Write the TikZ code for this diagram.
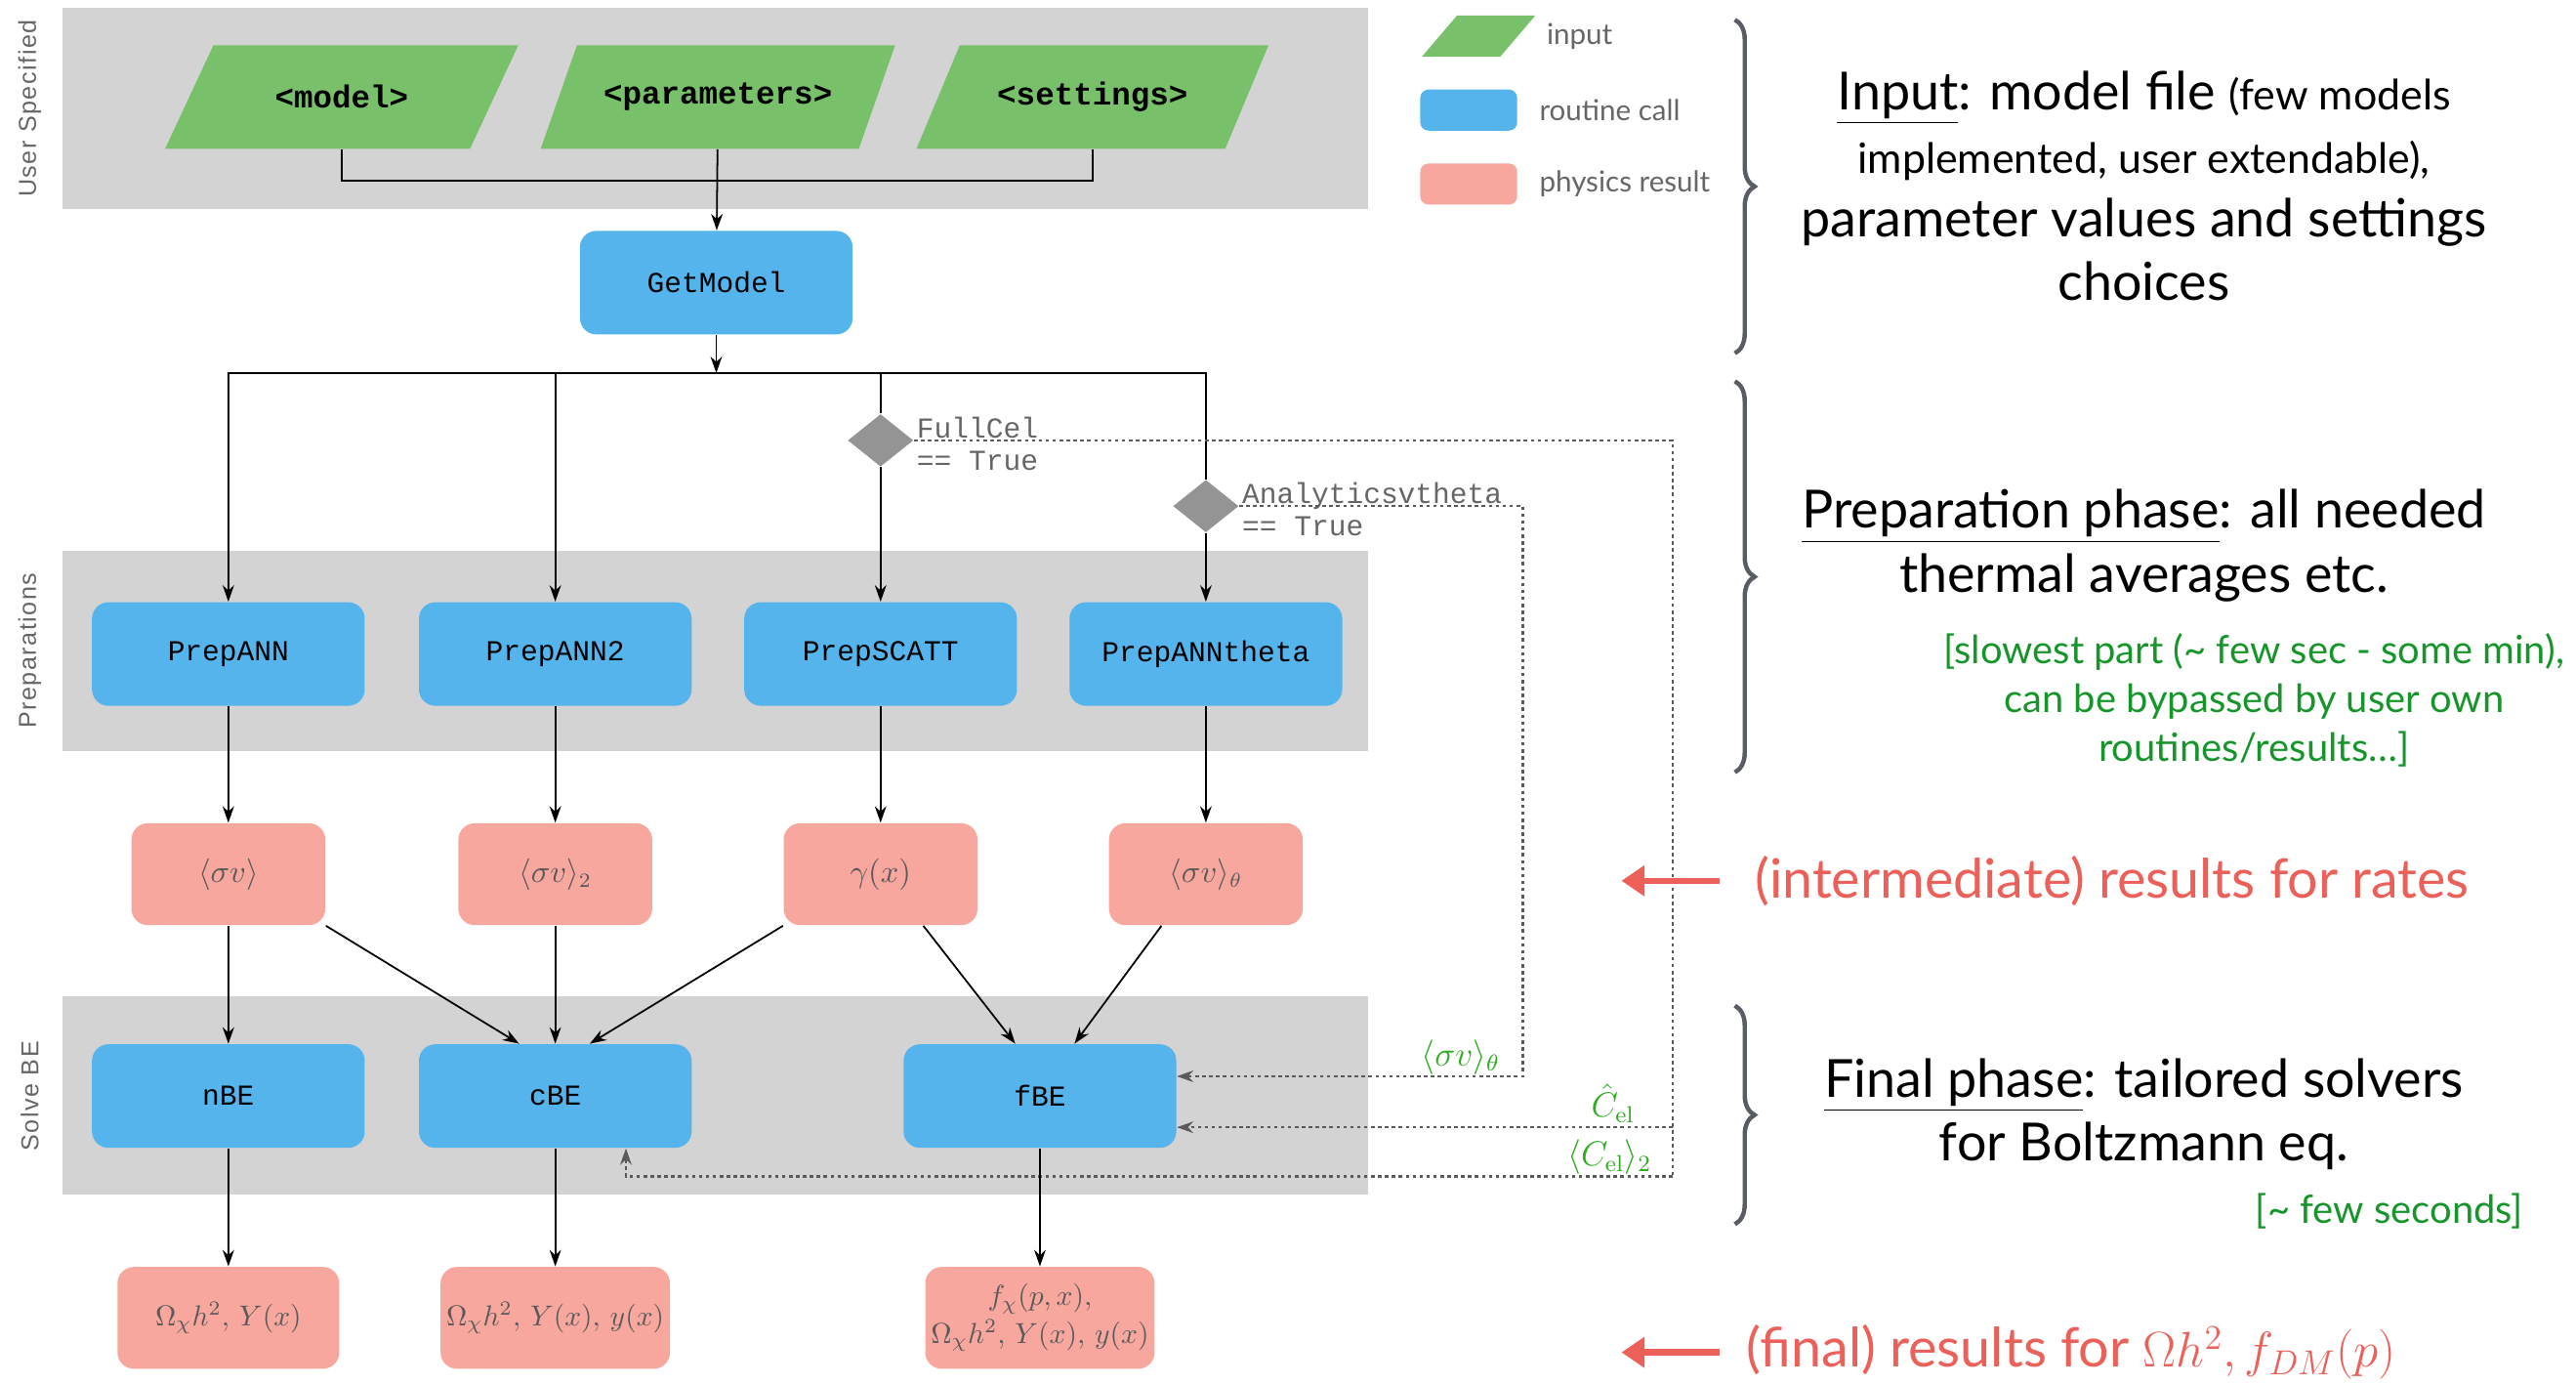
\documentclass[tikz,border=0pt]{standalone}
\usepackage[no-math]{fontspec}
\setmainfont{Lato}
\setmonofont{Liberation Mono}
\newfontfamily\bandfont[LetterSpace=6]{Liberation Sans}
\usetikzlibrary{arrows.meta,positioning,shapes.geometric,decorations.pathreplacing}

\definecolor{bandgray}{RGB}{211,211,211}
\definecolor{inputgreen}{RGB}{120,193,106}
\definecolor{callblue}{RGB}{85,180,236}
\definecolor{resultpink}{RGB}{247,167,158}
\definecolor{notered}{RGB}{236,96,90}
\definecolor{notegreen}{RGB}{22,150,42}
\definecolor{lblgreen}{RGB}{45,172,30}
\definecolor{bracegray}{RGB}{88,92,100}
\definecolor{linegray}{RGB}{90,90,90}

\begin{document}
\begin{tikzpicture}[
	x=0.2mm, y=-0.2mm,
	>={Stealth[length=2mm,width=1.4mm]},
	inputbox/.style={
		trapezium, trapezium left angle=48, trapezium right angle=132,
		trapezium stretches=true, fill=inputgreen,
		minimum width=43.2mm, minimum height=12.6mm, inner sep=1pt,
		font=\ttfamily\bfseries\fontsize{11}{13}\selectfont
	},
	callbox/.style={
		rectangle, rounded corners=2mm, fill=callblue,
		minimum width=33.2mm, minimum height=12.6mm, inner sep=2pt,
		font=\ttfamily\fontsize{10}{12}\selectfont
	},
	resbox/.style={
		rectangle, rounded corners=2mm, fill=resultpink, text=linegray,
		minimum width=23.6mm, minimum height=12.4mm, inner sep=2pt,
		font=\fontsize{10.5}{13}\selectfont
	},
	finalbox/.style={resbox, minimum width=27mm, align=center, font=\fontsize{10}{13}\selectfont},
	choice/.style={diamond, fill=black!42, minimum width=8mm, minimum height=6.4mm, inner sep=0pt},
	choicelbl/.style={anchor=west, align=left, text=black!60, inner sep=1pt,
		font=\ttfamily\fontsize{10}{11}\selectfont},
	band/.style={fill=bandgray},
	bandlbl/.style={rotate=90, text=black!60, font=\bandfont\fontsize{8.5}{10}\selectfont},
	arr/.style={->, semithick},
	wire/.style={semithick},
	dotarr/.style={->, linegray, line width=0.8pt, dash pattern=on 1.2pt off 1.2pt},
	lbl/.style={text=lblgreen, inner sep=0.3pt, font=\fontsize{11.5}{13}\selectfont},
	legtxt/.style={text=black!60, font=\fontsize{10}{12}\selectfont},
	brace/.style={decorate, decoration={brace, amplitude=2.4mm}, bracegray, line width=1.5pt},
	note/.style={align=center, font=\fontsize{18.2}{22}\selectfont},
	small/.style={align=center, text=notegreen, font=\fontsize{13.5}{17}\selectfont},
	rednote/.style={text=notered, font=\fontsize{18.8}{22}\selectfont},
	redarr/.style={-{Triangle[length=2.8mm,width=3.6mm]}, notered, line width=2.2pt}
	]
	\useasboundingbox (0,0) rectangle (1568,842);
	
	%% -- phase bands --------------------------------------------------------
	\fill[band] (38,5)   rectangle (833,127);
	\fill[band] (38,335) rectangle (833,457);
	\fill[band] (38,606) rectangle (833,727);
	\node[bandlbl] (lbluser) at (18,66)  {User Specified};
	\node[bandlbl] (lblprep) at (18,396) {Preparations};
	\node[bandlbl] (lblsolve) at (18,667) {Solve BE};
	
	%% -- user input ---------------------------------------------------------
	\node[inputbox] (model)    at (208,59) {<model>};
	\node[inputbox] (params)   at (437,59) {<parameters>};
	\node[inputbox] (settings) at (665,59) {<settings>};
	\node[callbox]  (getmodel) at (436,172) {GetModel};
	\coordinate (merge) at (437,110);
	\coordinate (split) at (436,227);
	
	\draw[wire] (model) |- (merge);
	\draw[wire] (settings) |- (merge);
	\draw[arr] (params) -- (getmodel);
	\draw[arr] (getmodel) -- (split);
	
	%% -- preparations -------------------------------------------------------
	\node[callbox] (prepann)    at (139,398) {PrepANN};
	\node[callbox] (prepann2)   at (338,398) {PrepANN2};
	\node[callbox] (prepscatt)  at (536,398) {PrepSCATT};
	\node[callbox] (prepannth)  at (734,398) {PrepANNtheta};
	
	\node[choice] (fullcel) at (536,268) {};
	\node[choice] (anatheta) at (734,308) {};
	\node[choicelbl] (fullcellbl) at (556,270) {FullCel\\== True};
	\node[choicelbl] (anathetalbl) at (754,310) {Analyticsvtheta\\== True};
	
	\draw[arr] (split) -| (prepann);
	\draw[arr] (split) -| (prepann2);
	\draw[wire] (split) -| (fullcel);
	\draw[wire] (split) -| (anatheta);
	\draw[arr] (fullcel) -- (prepscatt);
	\draw[arr] (anatheta) -- (prepannth);
	
	%% -- rates --------------------------------------------------------------
	\node[resbox] (sv)    at (139,532) {$\langle\sigma v\rangle$};
	\node[resbox] (sv2)   at (338,532) {$\langle\sigma v\rangle_2$};
	\node[resbox] (gamma) at (536,532) {$\gamma(x)$};
	\node[resbox] (svth)  at (734,532) {$\langle\sigma v\rangle_\theta$};
	
	\foreach \a/\b in {prepann/sv, prepann2/sv2, prepscatt/gamma, prepannth/svth}
	\draw[arr] (\a) -- (\b);
	
	%% -- solvers ------------------------------------------------------------
	\node[callbox] (nbe) at (139,667) {nBE};
	\node[callbox] (cbe) at (338,667) {cBE};
	\node[callbox] (fbe) at (633,667) {fBE};
	
	\draw[arr] (sv) -- (nbe);
	\draw[arr] (sv.south east) -- ([xshift=-4.4mm]cbe.north);
	\draw[arr] (sv2) -- (cbe);
	\draw[arr] (gamma.south west) -- ([xshift=4.2mm]cbe.north);
	\draw[arr] ([xshift=5.2mm]gamma.south) -- ([xshift=-3mm]fbe.north);
	\draw[arr] ([xshift=-5.4mm]svth.south) -- ([xshift=4.2mm]fbe.north);
	
	%% -- optional inputs (dotted) -------------------------------------------
	\coordinate (svthcorner) at (927,655);
	\coordinate (celbranch)  at (1018,686);
	\coordinate (celcorner)  at (1018,716);
	
	\draw[dotarr] (anatheta.east) -| (svthcorner)
		-- node[lbl, above, pos=0.18] {$\langle\sigma v\rangle_\theta$} (fbe.east |- svthcorner);
	\draw[dotarr, -] (fullcel.east) -| (celcorner);
	\draw[dotarr] (celbranch)
		-- node[lbl, above, pos=0.12, yshift=1pt] {$\hat{C}_{\mathrm{el}}$} (fbe.east |- celbranch);
	\draw[dotarr] (celcorner)
		-| node[lbl, above, pos=0.03] {$\langle C_{\mathrm{el}}\rangle_2$} ([xshift=8.6mm]cbe.south);
	
	%% -- final results ------------------------------------------------------
	\node[finalbox] (nres) at (139,802) {$\Omega_\chi h^2,\,Y(x)$};
	\node[finalbox] (cres) at (338,802) {$\Omega_\chi h^2,\,Y(x),\,y(x)$};
	\node[finalbox] (fres) at (633,802) {$f_\chi(p,x),$\\$\Omega_\chi h^2,\,Y(x),\,y(x)$};
	
	\foreach \a/\b in {nbe/nres, cbe/cres, fbe/fres}
	\draw[arr] (\a) -- (\b);
	
	%% -- legend -------------------------------------------------------------
	\node[inputbox, trapezium left angle=51, trapezium right angle=129,
		minimum width=13.8mm, minimum height=5mm] (leginput) at (900,22) {};
	\node[callbox, minimum width=11.8mm, minimum height=5mm, rounded corners=1mm] (legcall) at (894,67) {};
	\node[resbox, minimum width=11.8mm, minimum height=5mm, rounded corners=1mm] (legres) at (894,112) {};
	\node[legtxt, right=2.2mm of leginput] (leginputtxt) {input};
	\node[legtxt, right=1.4mm of legcall] (legcalltxt) {routine call};
	\node[legtxt, right=1.4mm of legres] (legrestxt) {physics result};
	
	%% -- braces and notes ---------------------------------------------------
	\draw[brace] (1056,12)  -- (1056,215);
	\draw[brace] (1056,232) -- (1056,470);
	\draw[brace] (1056,612) -- (1056,745);
	
	\node[note] (inputnote) at (1305,113) {
		\underline{Input}: model file {\fontsize{14.5}{22}\selectfont (few models}\\
		{\fontsize{14.5}{22}\selectfont implemented, user extendable),}\\
		parameter values and settings\\
		choices
	};
	\node[note] (prepnote) at (1305,332) {
		\underline{Preparation phase}: all needed\\
		thermal averages etc.
	};
	\node[small] (slownote) at (1372,426) {
		[slowest part (\textasciitilde{} few sec - some min),\\
		can be bypassed by user own\\
		routines/results…]
	};
	\node[note] (finalnote) at (1305,678) {
		\underline{Final phase}: tailored solvers\\
		for Boltzmann eq.
	};
	\node[small, anchor=east] (fastnote) at (1542,737) {[\textasciitilde{} few seconds]};
	
	\node[rednote, anchor=west] (ratesnote) at (1062,536) {(intermediate) results for rates};
	\node[rednote, anchor=west] (relicnote) at (1057,823) {(final) results for $\Omega h^2, f_{DM}(p)$};
	\coordinate (ratestip) at (987,536);
	\coordinate (relictip) at (987,823);
	\draw[redarr, shorten <=3mm] (ratesnote) -- (ratestip);
	\draw[redarr, shorten <=2mm] (relicnote) -- (relictip);
	
\end{tikzpicture}
\end{document}
